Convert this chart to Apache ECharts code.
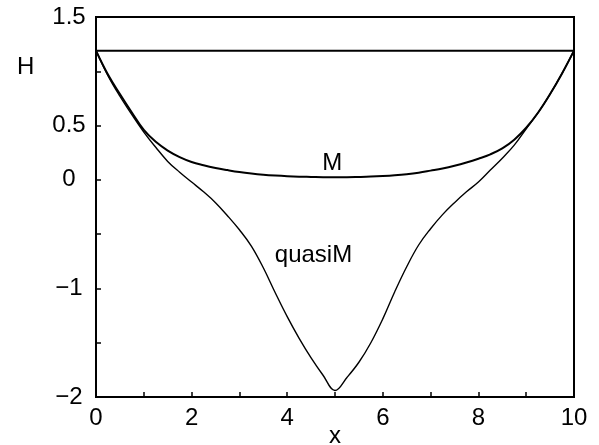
<!DOCTYPE html>
<html>
<head>
<meta charset="utf-8">
<script src="https://cdn.jsdelivr.net/npm/echarts@6/dist/echarts.min.js"></script>
<style>
  html, body { margin: 0; padding: 0; background: #fff; }
  #chart { width: 599px; height: 445px; }
</style>
</head>
<body>
<div id="chart"></div>
<script>
// Positions along the interval (both curves are sampled on the same grid)
const xs = [0, 0.25, 0.5, 0.75, 1, 1.25, 1.5, 1.75, 2, 2.25, 2.5, 2.75, 3, 3.25, 3.5, 3.75,
            4, 4.25, 4.5, 4.75, 5, 5.25, 5.5, 5.75, 6, 6.25, 6.5, 6.75,
            7, 7.25, 7.5, 7.75, 8, 8.25, 8.5, 8.75, 9, 9.25, 9.5, 9.75, 10];

// Energy along the M path
const hM = [1.19, 0.97, 0.79, 0.62, 0.46, 0.35, 0.27, 0.21, 0.165, 0.135, 0.11, 0.09, 0.072, 0.058, 0.047, 0.039,
            0.033, 0.029, 0.027, 0.025, 0.025, 0.025, 0.027, 0.03, 0.035, 0.042, 0.052, 0.066,
            0.085, 0.105, 0.13, 0.16, 0.195, 0.235, 0.29, 0.37, 0.48, 0.62, 0.79, 0.98, 1.19];

// Energy along the quasi-M path
const hQ = [1.19, 0.96, 0.77, 0.60, 0.44, 0.30, 0.17, 0.07, -0.02, -0.11, -0.21, -0.33, -0.46, -0.61, -0.81, -1.04,
            -1.26, -1.46, -1.64, -1.80, -1.94, -1.82, -1.68, -1.50, -1.28, -1.03, -0.80, -0.60,
            -0.45, -0.32, -0.21, -0.11, -0.02, 0.09, 0.20, 0.32, 0.47, 0.62, 0.79, 0.98, 1.19];

// Constant level
const xLevel = [0, 10];
const hLevel = [1.19, 1.19];

// Curve labels: [x, H, text]
const curveLabels = [[4.94, 0.15, 'M'], [4.55, -0.70, 'quasiM']];

// Tick labels that are printed
const xTickLabels = [0, 2, 4, 6, 8, 10];
const yTickValues = [1.5, 0.5, 0, -1, -2];
const yTickText = ['1.5', '0.5', '0', '\u22121', '\u22122'];

// Axis titles
const xTitle = 'x';
const yTitle = 'H';

const FONT = '"Liberation Sans", Arial, sans-serif';
const FS = 24;
const pair = (x, y) => x.map((v, i) => [v, y[i]]);

const chart = echarts.init(document.getElementById('chart'), null, { renderer: 'canvas' });

const labelMark = lbl => ({
  symbol: 'circle', symbolSize: 0,
  label: { show: true, color: '#000', fontFamily: FONT, fontSize: FS, formatter: p => p.name },
  data: [{ coord: [lbl[0], lbl[1]], name: lbl[2] }]
});

chart.setOption({
  animation: false,
  backgroundColor: '#fff',
  grid: {
    left: 96, right: 25, top: 17, bottom: 48,
    outerBoundsMode: 'none', containLabel: false,
    show: true, borderColor: '#000', borderWidth: 2, backgroundColor: 'transparent'
  },
  xAxis: {
    type: 'value', min: 0, max: 10, interval: 1,
    axisLine: { show: true, onZero: false, lineStyle: { color: '#000', width: 2 } },
    axisTick: { show: true, inside: true, length: 5, lineStyle: { color: '#000', width: 1.5 } },
    splitLine: { show: false },
    axisLabel: {
      color: '#000', fontFamily: FONT, fontSize: FS, margin: 9,
      formatter: v => (xTickLabels.indexOf(v) >= 0 ? String(v) : '')
    }
  },
  yAxis: {
    type: 'value', min: -2, max: 1.5, interval: 0.5,
    axisLine: { show: true, onZero: false, lineStyle: { color: '#000', width: 2 } },
    axisTick: { show: true, inside: true, length: 5, lineStyle: { color: '#000', width: 1.5 } },
    splitLine: { show: false },
    axisLabel: {
      color: '#000', fontFamily: FONT, fontSize: FS, margin: 27, align: 'center',
      formatter: v => {
        const i = yTickValues.findIndex(t => Math.abs(t - v) < 1e-9);
        return i >= 0 ? yTickText[i] : '';
      }
    }
  },
  graphic: [
    {
      type: 'text', left: 17, top: 55,
      style: { text: yTitle, fill: '#000', font: FS + 'px ' + FONT }
    },
    {
      type: 'text', x: 335, y: 436,
      style: { text: xTitle, fill: '#000', font: FS + 'px ' + FONT, align: 'center', verticalAlign: 'middle' }
    }
  ],
  series: [
    {
      type: 'line', data: pair(xLevel, hLevel), showSymbol: false,
      lineStyle: { color: '#000', width: 2 }
    },
    {
      type: 'line', data: pair(xs, hM), smooth: 0.4, showSymbol: false,
      lineStyle: { color: '#000', width: 2 },
      markPoint: labelMark(curveLabels[0])
    },
    {
      type: 'line', data: pair(xs, hQ), smooth: 0.4, showSymbol: false,
      lineStyle: { color: '#000', width: 1.4 },
      markPoint: labelMark(curveLabels[1])
    }
  ]
});
</script>
</body>
</html>
